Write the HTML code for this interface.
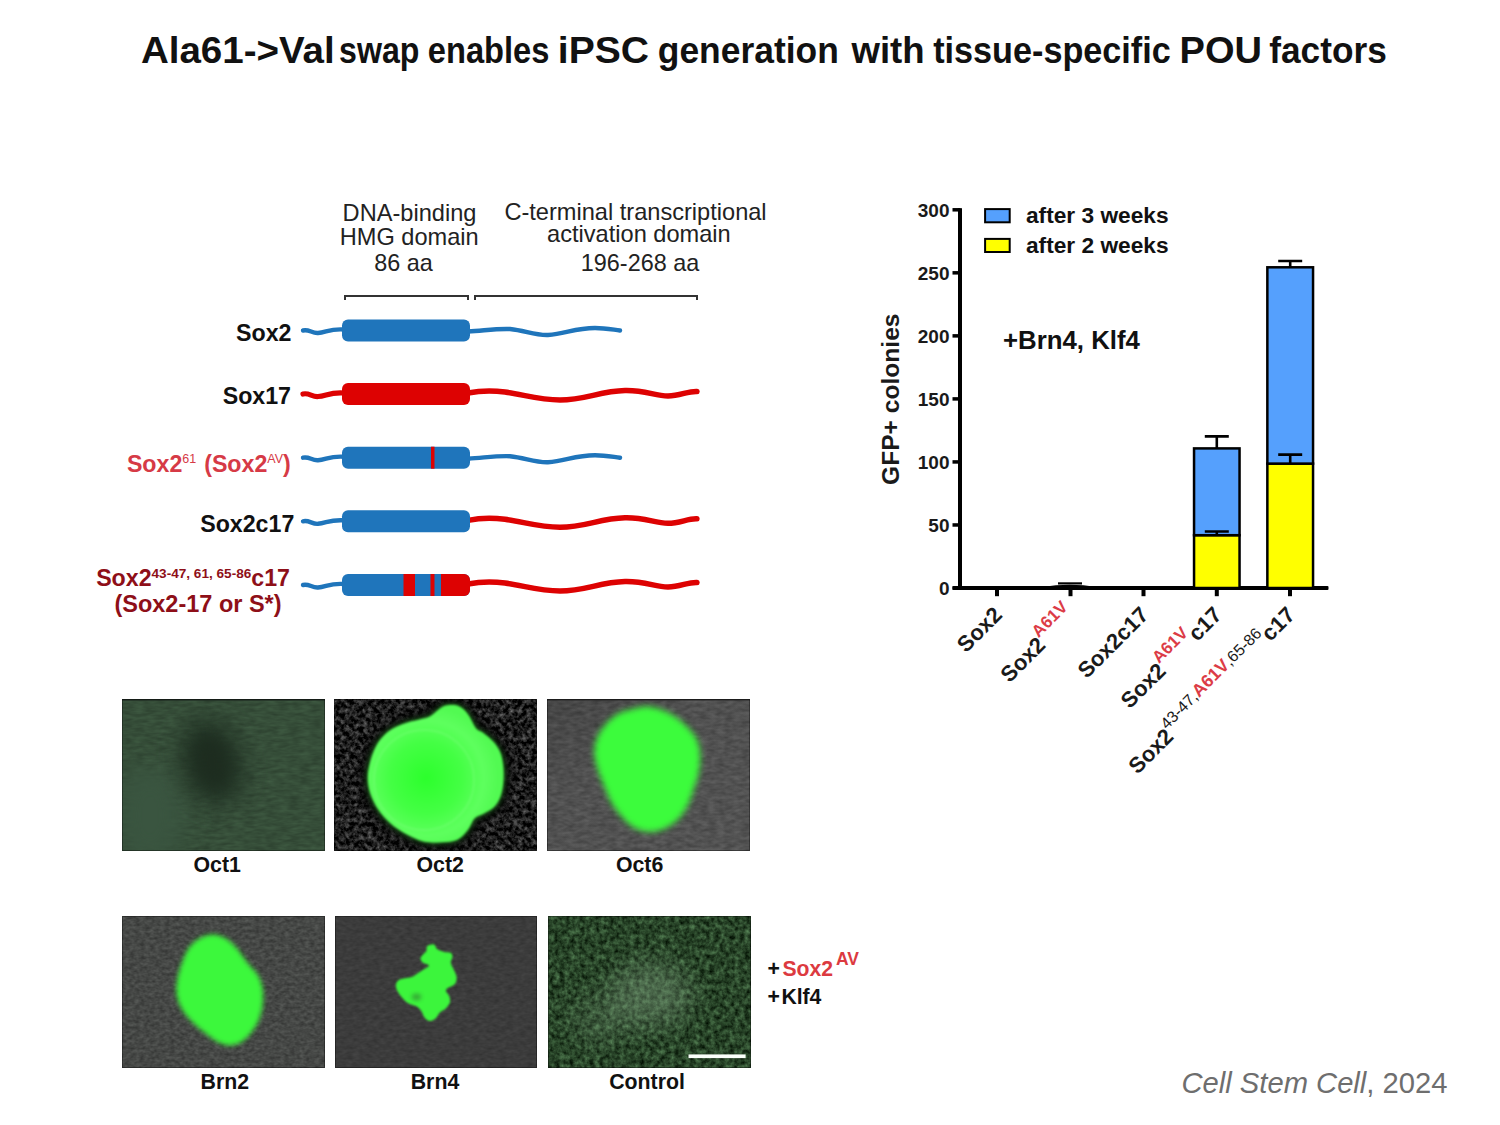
<!DOCTYPE html>
<html><head><meta charset="utf-8"><style>
html,body{margin:0;padding:0;background:#fff;}
body{width:1500px;height:1125px;overflow:hidden;}
svg{display:block;font-family:"Liberation Sans", sans-serif;}
</style></head><body>
<svg width="1500" height="1125" viewBox="0 0 1500 1125">
<defs>
<filter id="b0_8" x="-50%" y="-50%" width="200%" height="200%" color-interpolation-filters="sRGB"><feGaussianBlur stdDeviation="0.8"/></filter>
<filter id="b1_2" x="-50%" y="-50%" width="200%" height="200%" color-interpolation-filters="sRGB"><feGaussianBlur stdDeviation="1.2"/></filter>
<filter id="b2" x="-50%" y="-50%" width="200%" height="200%" color-interpolation-filters="sRGB"><feGaussianBlur stdDeviation="2"/></filter>
<filter id="b2_5" x="-50%" y="-50%" width="200%" height="200%" color-interpolation-filters="sRGB"><feGaussianBlur stdDeviation="2.5"/></filter>
<filter id="b3" x="-50%" y="-50%" width="200%" height="200%" color-interpolation-filters="sRGB"><feGaussianBlur stdDeviation="3"/></filter>
<filter id="b5" x="-50%" y="-50%" width="200%" height="200%" color-interpolation-filters="sRGB"><feGaussianBlur stdDeviation="5"/></filter>
<filter id="b8" x="-50%" y="-50%" width="200%" height="200%" color-interpolation-filters="sRGB"><feGaussianBlur stdDeviation="8"/></filter>
<filter id="b12" x="-50%" y="-50%" width="200%" height="200%" color-interpolation-filters="sRGB"><feGaussianBlur stdDeviation="12"/></filter>
<filter id="b16" x="-50%" y="-50%" width="200%" height="200%" color-interpolation-filters="sRGB"><feGaussianBlur stdDeviation="16"/></filter>
<clipPath id="c_oct1"><rect x="122" y="699" width="203" height="152"/></clipPath>
<clipPath id="c_oct2"><rect x="334" y="699" width="203" height="152"/></clipPath>
<clipPath id="c_oct6"><rect x="547" y="699" width="203" height="152"/></clipPath>
<clipPath id="c_brn2"><rect x="122" y="916" width="203" height="152"/></clipPath>
<clipPath id="c_brn4"><rect x="335" y="916" width="202" height="152"/></clipPath>
<clipPath id="c_ctrl"><rect x="548" y="916" width="203" height="152"/></clipPath>
<filter id="t_oct1" x="0" y="0" width="100%" height="100%" filterUnits="objectBoundingBox" color-interpolation-filters="sRGB"><feTurbulence type="fractalNoise" baseFrequency="0.09 0.3" numOctaves="2" seed="4"/><feColorMatrix type="matrix" values="0.9 0 0 0 0.0520 0.9 0 0 0 0.0520 0.9 0 0 0 0.0520 0 0 0 0 1"/></filter>
<filter id="t_oct2" x="0" y="0" width="100%" height="100%" filterUnits="objectBoundingBox" color-interpolation-filters="sRGB"><feTurbulence type="fractalNoise" baseFrequency="0.22" numOctaves="3" seed="7"/><feColorMatrix type="matrix" values="0.75 0 0 0 -0.2574 0.75 0 0 0 -0.2574 0.75 0 0 0 -0.2574 0 0 0 0 1"/></filter>
<filter id="t_oct6" x="0" y="0" width="100%" height="100%" filterUnits="objectBoundingBox" color-interpolation-filters="sRGB"><feTurbulence type="fractalNoise" baseFrequency="0.12 0.25" numOctaves="2" seed="11"/><feColorMatrix type="matrix" values="0.5 0 0 0 0.2520 0.5 0 0 0 0.2520 0.5 0 0 0 0.2520 0 0 0 0 1"/></filter>
<filter id="t_brn2" x="0" y="0" width="100%" height="100%" filterUnits="objectBoundingBox" color-interpolation-filters="sRGB"><feTurbulence type="fractalNoise" baseFrequency="0.2 0.3" numOctaves="2" seed="5"/><feColorMatrix type="matrix" values="0.7 0 0 0 0.1520 0.7 0 0 0 0.1520 0.7 0 0 0 0.1520 0 0 0 0 1"/></filter>
<filter id="t_brn4" x="0" y="0" width="100%" height="100%" filterUnits="objectBoundingBox" color-interpolation-filters="sRGB"><feTurbulence type="fractalNoise" baseFrequency="0.15 0.3" numOctaves="2" seed="9"/><feColorMatrix type="matrix" values="0.5 0 0 0 0.2520 0.5 0 0 0 0.2520 0.5 0 0 0 0.2520 0 0 0 0 1"/></filter>
<filter id="t_ctrl" x="0" y="0" width="100%" height="100%" filterUnits="objectBoundingBox" color-interpolation-filters="sRGB"><feTurbulence type="fractalNoise" baseFrequency="0.2" numOctaves="3" seed="3"/><feColorMatrix type="matrix" values="0.4 0 0 0 -0.0431 0.55 0 0 0 -0.0083 0.4 0 0 0 -0.0431 0 0 0 0 1"/></filter>
<radialGradient id="g_oct2" cx="426" cy="778" r="72" gradientUnits="userSpaceOnUse"><stop offset="0" stop-color="#2cff2c"/><stop offset="0.5" stop-color="#44ff44"/><stop offset="0.8" stop-color="#5eff5e"/><stop offset="1" stop-color="#52fa52"/></radialGradient>
<linearGradient id="g_oct6bg" x1="0" y1="0" x2="1" y2="1"><stop offset="0" stop-color="#444"/><stop offset="0.35" stop-color="#505050"/><stop offset="1" stop-color="#525252"/></linearGradient>
</defs>
<rect width="1500" height="1125" fill="#fff"/>
<text x="140.9" y="62.5" font-size="36" font-weight="bold" fill="#111" text-anchor="start" textLength="193.8" lengthAdjust="spacingAndGlyphs">Ala61-&gt;Val</text>
<text x="339.0" y="62.5" font-size="36" font-weight="bold" fill="#111" text-anchor="start" textLength="80.4" lengthAdjust="spacingAndGlyphs">swap</text>
<text x="427.8" y="62.5" font-size="36" font-weight="bold" fill="#111" text-anchor="start" textLength="121.6" lengthAdjust="spacingAndGlyphs">enables</text>
<text x="557.8" y="62.5" font-size="36" font-weight="bold" fill="#111" text-anchor="start" textLength="91.2" lengthAdjust="spacingAndGlyphs">iPSC</text>
<text x="657.8" y="62.5" font-size="36" font-weight="bold" fill="#111" text-anchor="start" textLength="181.0" lengthAdjust="spacingAndGlyphs">generation</text>
<text x="851.5" y="62.5" font-size="36" font-weight="bold" fill="#111" text-anchor="start" textLength="73.1" lengthAdjust="spacingAndGlyphs">with</text>
<text x="933.2" y="62.5" font-size="36" font-weight="bold" fill="#111" text-anchor="start" textLength="237.6" lengthAdjust="spacingAndGlyphs">tissue-specific</text>
<text x="1179.6" y="62.5" font-size="36" font-weight="bold" fill="#111" text-anchor="start" textLength="82.4" lengthAdjust="spacingAndGlyphs">POU</text>
<text x="1269.2" y="62.5" font-size="36" font-weight="bold" fill="#111" text-anchor="start" textLength="117.6" lengthAdjust="spacingAndGlyphs">factors</text>
<text x="409.5" y="220.6" font-size="23.6" font-weight="normal" fill="#222" text-anchor="middle" >DNA-binding</text>
<text x="409.2" y="244.6" font-size="23.6" font-weight="normal" fill="#222" text-anchor="middle" >HMG domain</text>
<text x="403.6" y="270.8" font-size="23.4" font-weight="normal" fill="#222" text-anchor="middle" >86 aa</text>
<text x="635.5" y="220.2" font-size="23.6" font-weight="normal" fill="#222" text-anchor="middle" >C-terminal transcriptional</text>
<text x="638.9" y="242.2" font-size="23.6" font-weight="normal" fill="#222" text-anchor="middle" >activation domain</text>
<text x="640" y="270.8" font-size="23.4" font-weight="normal" fill="#222" text-anchor="middle" >196-268 aa</text>
<path d="M345 300 V296 H468 V300 M475 300 V296 H697 V300" stroke="#333" stroke-width="2" fill="none"/>
<path d="M303 330.5 C309 329.0 312 333.5 318 333.0 C326 332.5 330 328.5 344 329.5" stroke="#1f75bb" stroke-width="4.4" fill="none" stroke-linecap="round"/>
<path d="M468 331.5 C485 330.5 495 328.5 510 329.0 C525 330.5 535 335.5 548 335.0 C565 334.0 575 328.0 595 328.0 C605 328.0 612 329.5 620 330.5" stroke="#1f75bb" stroke-width="4.4" fill="none" stroke-linecap="round"/>
<rect x="342" y="319.5" width="128" height="22" rx="6" fill="#1f75bb"/>
<text x="291.5" y="340.5" font-size="23.2" font-weight="bold" fill="#111" text-anchor="end" >Sox2</text>
<path d="M303 394 C309 392.5 312 397 318 396.5 C326 396 330 392 344 393" stroke="#dd0202" stroke-width="5.2" fill="none" stroke-linecap="round"/>
<path d="M468 393 C478 391 490 390 505 392 C525 395 540 400 560 400 C585 400 600 391 625 390.5 C645 390 655 396 668 396 C680 396 688 391 697 391.5" stroke="#dd0202" stroke-width="5.4" fill="none" stroke-linecap="round"/>
<rect x="342" y="383" width="128" height="22" rx="6" fill="#dd0202"/>
<text x="291" y="404" font-size="23.2" font-weight="bold" fill="#111" text-anchor="end" >Sox17</text>
<path d="M303 457.7 C309 456.2 312 460.7 318 460.2 C326 459.7 330 455.7 344 456.7" stroke="#1f75bb" stroke-width="4.4" fill="none" stroke-linecap="round"/>
<path d="M468 458.7 C485 457.7 495 455.7 510 456.2 C525 457.7 535 462.7 548 462.2 C565 461.2 575 455.2 595 455.2 C605 455.2 612 456.7 620 457.7" stroke="#1f75bb" stroke-width="4.4" fill="none" stroke-linecap="round"/>
<rect x="342" y="446.7" width="128" height="22" rx="6" fill="#1f75bb"/>
<rect x="431" y="446.7" width="3.5" height="22" fill="#dd0202"/>
<text x="290.8" y="471.9" font-size="23.2" font-weight="bold" fill="#d63a46" text-anchor="end">Sox2<tspan font-size="12.5" font-weight="normal" dy="-9">61</tspan><tspan dy="9" dx="1.5"> (Sox2</tspan><tspan font-size="12.5" font-weight="normal" dy="-9">AV</tspan><tspan dy="9">)</tspan></text>
<path d="M303 521.3 C309 519.8 312 524.3 318 523.8 C326 523.3 330 519.3 344 520.3" stroke="#1f75bb" stroke-width="4.4" fill="none" stroke-linecap="round"/>
<path d="M468 520.3 C478 518.3 490 517.3 505 519.3 C525 522.3 540 527.3 560 527.3 C585 527.3 600 518.3 625 517.8 C645 517.3 655 523.3 668 523.3 C680 523.3 688 518.3 697 518.8" stroke="#dd0202" stroke-width="5.4" fill="none" stroke-linecap="round"/>
<rect x="342" y="510.29999999999995" width="128" height="22" rx="6" fill="#1f75bb"/>
<text x="294.3" y="531.8" font-size="23.2" font-weight="bold" fill="#111" text-anchor="end" >Sox2c17</text>
<path d="M303 585 C309 583.5 312 588 318 587.5 C326 587 330 583 344 584" stroke="#1f75bb" stroke-width="4.4" fill="none" stroke-linecap="round"/>
<path d="M468 584 C478 582 490 581 505 583 C525 586 540 591 560 591 C585 591 600 582 625 581.5 C645 581 655 587 668 587 C680 587 688 582 697 582.5" stroke="#dd0202" stroke-width="5.4" fill="none" stroke-linecap="round"/>
<rect x="342" y="574" width="128" height="22" rx="6" fill="#1f75bb"/>
<path d="M441 574 H464 A6 6 0 0 1 470 580 V590 A6 6 0 0 1 464 596 H441 Z" fill="#dd0202"/>
<rect x="403.5" y="574" width="11.5" height="22" fill="#dd0202"/>
<rect x="430.5" y="574" width="4" height="22" fill="#dd0202"/>
<text x="290" y="585.9" font-size="23.2" font-weight="bold" fill="#8e0f18" text-anchor="end">Sox2<tspan font-size="13.6" dy="-7.5">43-47, 61, 65-86</tspan><tspan dy="7.5">c17</tspan></text>
<text x="198" y="611.8" font-size="23.5" font-weight="bold" fill="#8e0f18" text-anchor="middle" >(Sox2-17 or S*)</text>
<rect x="952.5" y="586.25" width="8" height="3.5" fill="#000"/>
<text x="949.5" y="595.00" font-size="19" font-weight="bold" fill="#1a1a1a" text-anchor="end" >0</text>
<rect x="952.5" y="523.22" width="8" height="3.5" fill="#000"/>
<text x="949.5" y="531.97" font-size="19" font-weight="bold" fill="#1a1a1a" text-anchor="end" >50</text>
<rect x="952.5" y="460.18" width="8" height="3.5" fill="#000"/>
<text x="949.5" y="468.93" font-size="19" font-weight="bold" fill="#1a1a1a" text-anchor="end" >100</text>
<rect x="952.5" y="397.15" width="8" height="3.5" fill="#000"/>
<text x="949.5" y="405.90" font-size="19" font-weight="bold" fill="#1a1a1a" text-anchor="end" >150</text>
<rect x="952.5" y="334.12" width="8" height="3.5" fill="#000"/>
<text x="949.5" y="342.87" font-size="19" font-weight="bold" fill="#1a1a1a" text-anchor="end" >200</text>
<rect x="952.5" y="271.08" width="8" height="3.5" fill="#000"/>
<text x="949.5" y="279.83" font-size="19" font-weight="bold" fill="#1a1a1a" text-anchor="end" >250</text>
<rect x="952.5" y="208.05" width="8" height="3.5" fill="#000"/>
<text x="949.5" y="216.80" font-size="19" font-weight="bold" fill="#1a1a1a" text-anchor="end" >300</text>
<rect x="958" y="208.2" width="4" height="381.8" fill="#000"/>
<rect x="952.5" y="586" width="376" height="4" fill="#000" rx="1"/>
<rect x="995" y="588" width="4" height="8.2" fill="#000"/>
<rect x="1068.5" y="588" width="4" height="8.2" fill="#000"/>
<rect x="1141.5" y="588" width="4" height="8.2" fill="#000"/>
<rect x="1214.8" y="588" width="4" height="8.2" fill="#000"/>
<rect x="1288" y="588" width="4" height="8.2" fill="#000"/>
<text transform="translate(898.5,485) rotate(-90)" x="0" y="0" font-size="24.6" font-weight="bold" fill="#1a1a1a">GFP+ colonies</text>
<rect x="985.1" y="209.1" width="24.6" height="13.2" fill="#55a0fd" stroke="#000" stroke-width="2"/>
<rect x="985.1" y="238.9" width="24.6" height="13.1" fill="#ffff00" stroke="#000" stroke-width="2"/>
<text x="1026" y="223" font-size="22.7" font-weight="bold" fill="#111" text-anchor="start" >after 3 weeks</text>
<text x="1026" y="252.6" font-size="22.7" font-weight="bold" fill="#111" text-anchor="start" >after 2 weeks</text>
<text x="1003" y="349.3" font-size="25.8" font-weight="bold" fill="#111" text-anchor="start" >+Brn4, Klf4</text>
<rect x="1194.05" y="535.2" width="45.5" height="52.799999999999955" fill="#ffff00" stroke="#000" stroke-width="2.5"/>
<rect x="1194.05" y="448.4" width="45.5" height="86.80000000000007" fill="#55a0fd" stroke="#000" stroke-width="2.5"/>
<path d="M1216.8 448.4 V436.4 M1204.8 436.4 H1228.8" stroke="#000" stroke-width="2.6" fill="none"/>
<path d="M1216.8 535.2 V531.5 M1204.8 531.5 H1228.8" stroke="#000" stroke-width="2.6" fill="none"/>
<rect x="1267.35" y="463.6" width="45.700000000000045" height="124.39999999999998" fill="#ffff00" stroke="#000" stroke-width="2.5"/>
<rect x="1267.35" y="267.3" width="45.700000000000045" height="196.3" fill="#55a0fd" stroke="#000" stroke-width="2.5"/>
<path d="M1290.1999999999998 267.3 V261.0 M1278.1999999999998 261.0 H1302.1999999999998" stroke="#000" stroke-width="2.6" fill="none"/>
<path d="M1290.1999999999998 463.6 V454.6 M1278.1999999999998 454.6 H1302.1999999999998" stroke="#000" stroke-width="2.6" fill="none"/>
<path d="M1042 587 Q1070 582.5 1097 587 Z" fill="#000"/>
<rect x="1058" y="582.3" width="24" height="2.2" fill="#000"/>
<text transform="translate(1003.3,616.2) rotate(-45)" x="0" y="0" font-size="22" font-weight="bold" fill="#1a1a1a" text-anchor="end">Sox2</text>
<text transform="translate(1076.8,616.2) rotate(-45)" x="0" y="0" font-size="22" font-weight="bold" fill="#1a1a1a" text-anchor="end">Sox2<tspan fill="#dc3c46" font-size="17" dy="-11.5">A61V</tspan></text>
<text transform="translate(1149.8,616.2) rotate(-45)" x="0" y="0" font-size="22" font-weight="bold" fill="#1a1a1a" text-anchor="end">Sox2c17</text>
<text transform="translate(1223.1,616.2) rotate(-45)" x="0" y="0" font-size="22" font-weight="bold" fill="#1a1a1a" text-anchor="end">Sox2<tspan fill="#dc3c46" font-size="17" dy="-11.5">A61V</tspan><tspan dy="11.5">c17</tspan></text>
<text transform="translate(1296.3,616.2) rotate(-45)" x="0" y="0" font-size="22" font-weight="bold" fill="#1a1a1a" text-anchor="end">Sox2<tspan font-size="16" font-weight="normal" dy="-11">43-47,</tspan><tspan fill="#dc3c46" font-size="17.8">A61V</tspan><tspan font-size="16" font-weight="normal">,65-86</tspan><tspan dy="11">c17</tspan></text>
<g clip-path="url(#c_oct1)">
<rect x="122" y="699" width="203" height="152" fill="#354d38" />
<rect x="122" y="699" width="203" height="152" fill="#808080" filter="url(#t_oct1)" style="mix-blend-mode:overlay" opacity="0.25"/>
<ellipse cx="150" cy="815" rx="35" ry="50" fill="#3a5540" filter="url(#b12)"/>
<ellipse cx="212" cy="762" rx="30" ry="44" fill="#1f3022" filter="url(#b12)" transform="rotate(-15 212 762)"/>
<ellipse cx="212" cy="762" rx="16" ry="26" fill="#1d2c1f" filter="url(#b8)" transform="rotate(-15 212 762)"/>
<rect x="122" y="699" width="203" height="1.6" fill="#1f2a22"/>
</g>
<g clip-path="url(#c_oct2)">
<rect x="334" y="699" width="203" height="152" fill="#222" />
<rect x="334" y="699" width="203" height="152" fill="#222" filter="url(#t_oct2)"/>
<path d="M367.8 777.5 C367.8 772.0 369.1 766.3 370.5 761.0 C371.9 755.7 374.1 749.9 376.5 745.5 C378.9 741.1 381.8 737.6 385.0 734.5 C388.2 731.4 392.2 729.0 396.0 727.0 C399.8 725.0 404.0 723.8 408.0 722.5 C412.0 721.2 416.3 720.5 420.0 719.5 C423.7 718.5 427.2 717.9 430.0 716.5 C432.8 715.1 434.5 712.8 437.0 711.0 C439.5 709.2 441.9 706.8 445.0 705.8 C448.1 704.8 452.7 704.6 455.8 705.3 C458.9 706.0 461.6 707.9 463.9 709.8 C466.1 711.7 467.3 713.4 469.3 716.6 C471.3 719.8 473.9 726.1 476.1 728.8 C478.4 731.5 479.9 730.5 482.8 732.8 C485.7 735.0 490.8 738.9 493.7 742.3 C496.6 745.7 498.8 749.0 500.4 753.1 C502.0 757.2 502.7 761.7 503.2 766.7 C503.7 771.7 503.7 778.0 503.2 782.9 C502.7 787.8 502.0 792.3 500.4 796.4 C498.8 800.5 496.6 804.4 493.7 807.3 C490.8 810.2 486.0 812.2 482.8 814.0 C479.6 815.8 476.9 815.8 474.7 818.1 C472.4 820.4 471.3 824.7 469.3 827.6 C467.3 830.5 465.3 833.5 462.6 835.7 C459.9 838.0 457.4 840.0 453.1 841.1 C448.8 842.2 442.0 842.4 436.8 842.4 C431.6 842.4 427.4 842.7 422.0 841.1 C416.6 839.5 409.6 835.9 404.4 833.0 C399.2 830.1 395.1 827.3 390.8 823.5 C386.5 819.7 382.1 815.0 378.7 810.0 C375.3 805.0 372.3 799.1 370.5 793.7 C368.7 788.3 367.8 783.0 367.8 777.5 Z" fill="#080808" stroke="#080808" stroke-width="14" filter="url(#b5)"/>
<path d="M367.8 777.5 C367.8 772.0 369.1 766.3 370.5 761.0 C371.9 755.7 374.1 749.9 376.5 745.5 C378.9 741.1 381.8 737.6 385.0 734.5 C388.2 731.4 392.2 729.0 396.0 727.0 C399.8 725.0 404.0 723.8 408.0 722.5 C412.0 721.2 416.3 720.5 420.0 719.5 C423.7 718.5 427.2 717.9 430.0 716.5 C432.8 715.1 434.5 712.8 437.0 711.0 C439.5 709.2 441.9 706.8 445.0 705.8 C448.1 704.8 452.7 704.6 455.8 705.3 C458.9 706.0 461.6 707.9 463.9 709.8 C466.1 711.7 467.3 713.4 469.3 716.6 C471.3 719.8 473.9 726.1 476.1 728.8 C478.4 731.5 479.9 730.5 482.8 732.8 C485.7 735.0 490.8 738.9 493.7 742.3 C496.6 745.7 498.8 749.0 500.4 753.1 C502.0 757.2 502.7 761.7 503.2 766.7 C503.7 771.7 503.7 778.0 503.2 782.9 C502.7 787.8 502.0 792.3 500.4 796.4 C498.8 800.5 496.6 804.4 493.7 807.3 C490.8 810.2 486.0 812.2 482.8 814.0 C479.6 815.8 476.9 815.8 474.7 818.1 C472.4 820.4 471.3 824.7 469.3 827.6 C467.3 830.5 465.3 833.5 462.6 835.7 C459.9 838.0 457.4 840.0 453.1 841.1 C448.8 842.2 442.0 842.4 436.8 842.4 C431.6 842.4 427.4 842.7 422.0 841.1 C416.6 839.5 409.6 835.9 404.4 833.0 C399.2 830.1 395.1 827.3 390.8 823.5 C386.5 819.7 382.1 815.0 378.7 810.0 C375.3 805.0 372.3 799.1 370.5 793.7 C368.7 788.3 367.8 783.0 367.8 777.5 Z" fill="#2a9a2a" filter="url(#b3)"/>
<path d="M367.8 777.5 C367.8 772.0 369.1 766.3 370.5 761.0 C371.9 755.7 374.1 749.9 376.5 745.5 C378.9 741.1 381.8 737.6 385.0 734.5 C388.2 731.4 392.2 729.0 396.0 727.0 C399.8 725.0 404.0 723.8 408.0 722.5 C412.0 721.2 416.3 720.5 420.0 719.5 C423.7 718.5 427.2 717.9 430.0 716.5 C432.8 715.1 434.5 712.8 437.0 711.0 C439.5 709.2 441.9 706.8 445.0 705.8 C448.1 704.8 452.7 704.6 455.8 705.3 C458.9 706.0 461.6 707.9 463.9 709.8 C466.1 711.7 467.3 713.4 469.3 716.6 C471.3 719.8 473.9 726.1 476.1 728.8 C478.4 731.5 479.9 730.5 482.8 732.8 C485.7 735.0 490.8 738.9 493.7 742.3 C496.6 745.7 498.8 749.0 500.4 753.1 C502.0 757.2 502.7 761.7 503.2 766.7 C503.7 771.7 503.7 778.0 503.2 782.9 C502.7 787.8 502.0 792.3 500.4 796.4 C498.8 800.5 496.6 804.4 493.7 807.3 C490.8 810.2 486.0 812.2 482.8 814.0 C479.6 815.8 476.9 815.8 474.7 818.1 C472.4 820.4 471.3 824.7 469.3 827.6 C467.3 830.5 465.3 833.5 462.6 835.7 C459.9 838.0 457.4 840.0 453.1 841.1 C448.8 842.2 442.0 842.4 436.8 842.4 C431.6 842.4 427.4 842.7 422.0 841.1 C416.6 839.5 409.6 835.9 404.4 833.0 C399.2 830.1 395.1 827.3 390.8 823.5 C386.5 819.7 382.1 815.0 378.7 810.0 C375.3 805.0 372.3 799.1 370.5 793.7 C368.7 788.3 367.8 783.0 367.8 777.5 Z" fill="url(#g_oct2)" filter="url(#b1_2)"/>
<circle cx="424" cy="780" r="50" fill="none" stroke="#9cff9c" stroke-width="2" opacity="0.22" filter="url(#b1_2)"/>
</g>
<g clip-path="url(#c_oct6)">
<rect x="547" y="699" width="203" height="152" fill="url(#g_oct6bg)" />
<rect x="547" y="699" width="203" height="152" fill="#808080" filter="url(#t_oct6)" style="mix-blend-mode:overlay" opacity="0.5"/>
<path d="M630.7 709.6 C635.0 708.6 640.8 706.6 645.8 706.6 C650.8 706.6 655.9 707.8 660.9 709.6 C665.9 711.4 671.5 714.2 676.0 717.2 C680.5 720.2 684.6 724.0 688.1 727.8 C691.6 731.6 695.1 735.4 697.1 739.9 C699.1 744.4 699.9 749.5 700.2 755.0 C700.5 760.5 699.7 767.6 698.7 773.1 C697.7 778.6 695.9 782.9 694.1 788.2 C692.3 793.5 690.6 799.8 688.1 804.8 C685.6 809.8 682.5 814.6 679.0 818.4 C675.5 822.2 671.4 825.2 666.9 827.5 C662.4 829.8 656.8 831.8 651.8 832.0 C646.8 832.2 641.2 831.0 636.7 829.0 C632.2 827.0 628.6 823.9 624.6 819.9 C620.6 815.9 615.8 810.1 612.5 804.8 C609.2 799.5 607.5 794.2 605.0 788.2 C602.5 782.2 599.2 774.9 597.4 768.6 C595.6 762.3 594.1 756.2 594.4 750.4 C594.6 744.6 596.4 738.8 598.9 733.8 C601.4 728.8 606.0 723.7 609.5 720.2 C613.0 716.7 616.6 714.5 620.1 712.7 C623.6 710.9 626.4 710.6 630.7 709.6 Z" fill="#3cfc3c" filter="url(#b3)"/>
<rect x="547" y="699" width="203" height="1.5" fill="#2a2a2a"/>
</g>
<g clip-path="url(#c_brn2)">
<rect x="122" y="916" width="203" height="152" fill="#454745" />
<rect x="122" y="916" width="203" height="152" fill="#808080" filter="url(#t_brn2)" style="mix-blend-mode:overlay" opacity="0.5"/>
<path d="M200.2 937.9 C204.2 935.9 209.4 934.2 214.0 934.5 C218.6 934.8 223.8 937.1 227.9 939.7 C232.0 942.3 235.1 946.4 238.3 950.1 C241.5 953.9 243.8 958.2 247.0 962.2 C250.2 966.2 254.8 970.0 257.4 974.3 C260.0 978.6 261.7 983.0 262.6 988.2 C263.5 993.4 263.2 1000.4 262.6 1005.6 C262.0 1010.8 260.8 1015.1 259.1 1019.4 C257.4 1023.7 255.1 1027.8 252.2 1031.6 C249.3 1035.4 245.6 1039.7 241.8 1042.0 C238.0 1044.3 233.7 1045.4 229.6 1045.4 C225.5 1045.4 221.5 1044.0 217.5 1042.0 C213.5 1040.0 209.5 1036.5 205.4 1033.3 C201.3 1030.1 197.0 1026.7 193.2 1022.9 C189.4 1019.1 185.6 1015.4 182.8 1010.8 C180.1 1006.2 177.6 1000.7 176.7 995.2 C175.8 989.7 176.6 983.6 177.6 977.8 C178.6 972.0 180.8 965.7 182.8 960.5 C184.8 955.3 186.9 950.4 189.8 946.6 C192.7 942.8 196.2 939.9 200.2 937.9 Z" fill="#3cf83c" filter="url(#b2_5)"/>
</g>
<g clip-path="url(#c_brn4)">
<rect x="335" y="916" width="202" height="152" fill="#3b3b3b" />
<rect x="335" y="916" width="202" height="152" fill="#808080" filter="url(#t_brn4)" style="mix-blend-mode:overlay" opacity="0.4"/>
<path d="M427.2 946.0 C428.4 944.9 432.2 943.8 433.9 944.3 C435.6 944.8 435.6 948.0 437.3 949.3 C439.0 950.6 441.9 951.3 444.1 951.9 C446.4 952.5 449.4 951.9 450.8 952.7 C452.2 953.5 452.5 955.2 452.5 956.9 C452.5 958.6 450.5 960.5 450.8 962.8 C451.1 965.0 453.2 968.0 454.2 970.4 C455.2 972.8 456.6 975.0 456.7 977.2 C456.8 979.5 456.3 982.2 455.0 983.9 C453.7 985.6 450.6 986.2 449.1 987.3 C447.6 988.4 445.8 989.3 445.8 990.7 C445.8 992.1 448.4 993.8 449.1 995.8 C449.8 997.8 450.6 1000.4 450.0 1002.5 C449.4 1004.6 447.5 1006.7 445.8 1008.4 C444.1 1010.1 441.6 1010.9 439.9 1012.6 C438.2 1014.3 437.3 1017.1 435.6 1018.5 C433.9 1019.9 431.5 1021.2 429.7 1021.1 C427.9 1021.0 426.1 1019.4 424.7 1017.7 C423.3 1016.0 422.6 1012.8 421.3 1011.0 C420.0 1009.2 418.5 1007.7 417.1 1006.7 C415.7 1005.7 414.5 1005.7 412.8 1005.0 C411.1 1004.3 408.7 1003.8 406.9 1002.5 C405.1 1001.2 403.6 999.5 401.9 997.4 C400.2 995.3 397.8 992.1 396.8 989.9 C395.8 987.6 395.6 985.6 396.0 983.9 C396.4 982.2 397.6 980.7 399.3 979.7 C401.0 978.7 403.9 978.5 406.1 978.0 C408.4 977.5 410.6 977.4 412.8 976.4 C415.1 975.4 417.6 973.4 419.6 972.1 C421.6 970.8 423.1 969.9 424.7 968.8 C426.2 967.7 429.2 966.4 428.9 965.4 C428.6 964.4 424.4 963.9 423.0 962.8 C421.6 961.7 420.4 960.0 420.4 958.6 C420.4 957.2 422.0 955.7 423.0 954.4 C424.0 953.1 425.7 952.4 426.4 951.0 C427.1 949.6 425.9 947.1 427.2 946.0 Z" fill="#3cf53c" filter="url(#b1_2)"/>
<ellipse cx="416.5" cy="997" rx="5" ry="3.5" fill="#2e502e" opacity="0.45" filter="url(#b2)"/>
</g>
<g clip-path="url(#c_ctrl)">
<rect x="548" y="916" width="203" height="152" fill="#2c4a2f" />
<rect x="548" y="916" width="203" height="152" fill="#2c4a2f" filter="url(#t_ctrl)"/>
<ellipse cx="650" cy="995" rx="42" ry="32" fill="#8fb08f" opacity="0.35" filter="url(#b12)"/>
<ellipse cx="600" cy="1020" rx="30" ry="25" fill="#8fb08f" opacity="0.18" filter="url(#b12)"/>
<rect x="688.5" y="1054.4" width="57.1" height="3.7" fill="#fafffa"/>
</g>
<rect x="122.5" y="699.5" width="202" height="151" fill="none" stroke="#000" stroke-opacity="0.35" stroke-width="1"/>
<rect x="334.5" y="699.5" width="202" height="151" fill="none" stroke="#000" stroke-opacity="0.35" stroke-width="1"/>
<rect x="547.5" y="699.5" width="202" height="151" fill="none" stroke="#000" stroke-opacity="0.35" stroke-width="1"/>
<rect x="122.5" y="916.5" width="202" height="151" fill="none" stroke="#000" stroke-opacity="0.35" stroke-width="1"/>
<rect x="335.5" y="916.5" width="201" height="151" fill="none" stroke="#000" stroke-opacity="0.35" stroke-width="1"/>
<rect x="548.5" y="916.5" width="202" height="151" fill="none" stroke="#000" stroke-opacity="0.35" stroke-width="1"/>
<text x="217.2" y="872.4" font-size="21.3" font-weight="bold" fill="#111" text-anchor="middle" >Oct1</text>
<text x="440.2" y="872.4" font-size="21.3" font-weight="bold" fill="#111" text-anchor="middle" >Oct2</text>
<text x="639.6" y="872.4" font-size="21.3" font-weight="bold" fill="#111" text-anchor="middle" >Oct6</text>
<text x="224.8" y="1089.2" font-size="21.3" font-weight="bold" fill="#111" text-anchor="middle" >Brn2</text>
<text x="435" y="1089.2" font-size="21.3" font-weight="bold" fill="#111" text-anchor="middle" >Brn4</text>
<text x="647" y="1089.4" font-size="21.3" font-weight="bold" fill="#111" text-anchor="middle" >Control</text>
<text x="767.5" y="975.8" font-size="21.2" font-weight="bold" fill="#111">+<tspan dx="2.5" fill="#dc3a40">Sox2</tspan><tspan dx="3" dy="-10.5" font-size="17.5" fill="#dc3a40">AV</tspan></text>
<text x="767.5" y="1004" font-size="21.2" font-weight="bold" fill="#111">+<tspan dx="1.5">Klf4</tspan></text>
<text x="1447.5" y="1093.2" font-size="29.2" fill="#6e6e6e" text-anchor="end"><tspan font-style="italic">Cell Stem Cell</tspan>, 2024</text>
</svg>
</body></html>
